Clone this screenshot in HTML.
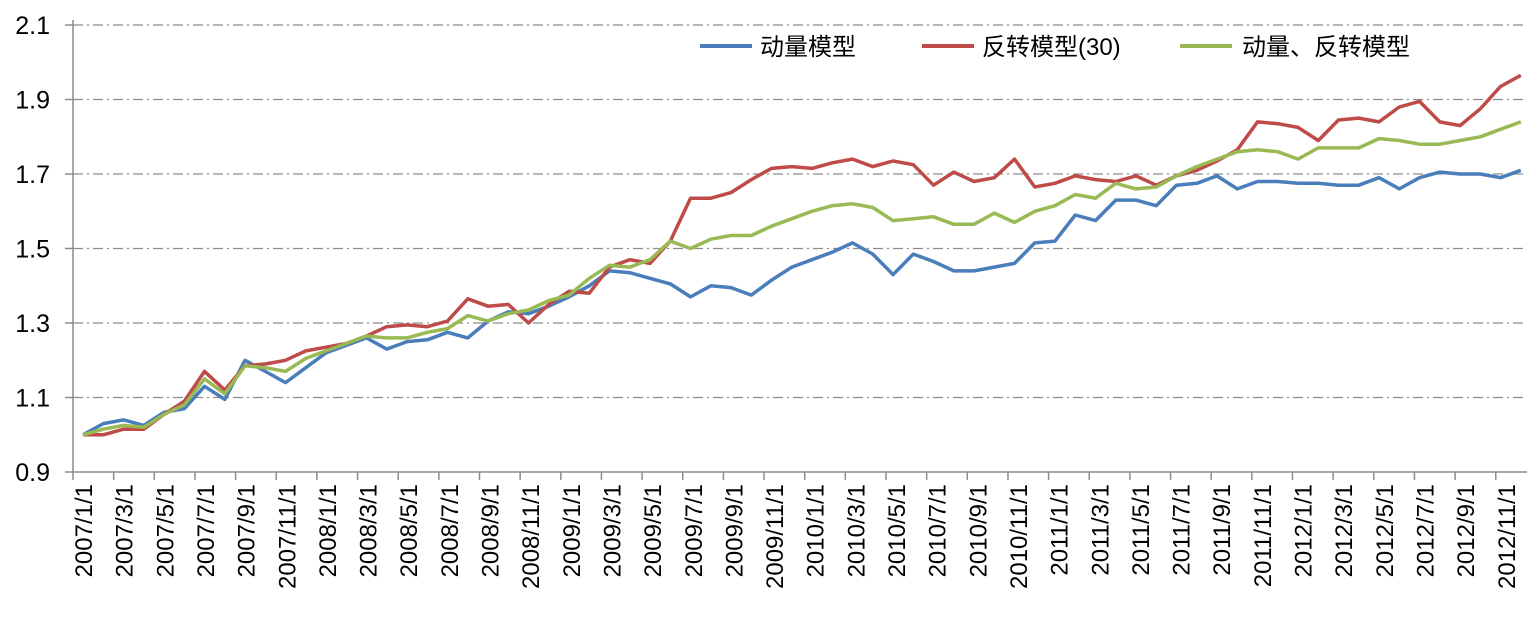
<!DOCTYPE html>
<html><head><meta charset="utf-8"><style>
body{margin:0;background:#fff}
svg text{font-family:"Liberation Sans","Noto Sans CJK SC",sans-serif}
</style></head><body>
<svg width="1539" height="624" viewBox="0 0 1539 624" xmlns="http://www.w3.org/2000/svg">
<g id="grid"></g><g id="axes"></g><g id="series"></g>
<g>
<line x1="700" y1="46" x2="752" y2="46" stroke="#4a7ebb" stroke-width="4"/>
<text x="760" y="55" font-size="24" fill="#000">动量模型</text>
<line x1="922" y1="46" x2="974" y2="46" stroke="#be4b48" stroke-width="4"/>
<text x="982" y="55" font-size="24" fill="#000">反转模型(30)</text>
<line x1="1180" y1="46" x2="1232" y2="46" stroke="#98b954" stroke-width="4"/>
<text x="1242" y="55" font-size="24" fill="#000">动量、反转模型</text>
</g>
</svg>
<script>
const yTicks=[0.9,1.1,1.3,1.5,1.7,1.9,2.1];
const momentum=[1.0,1.03,1.04,1.025,1.06,1.07,1.13,1.095,1.2,1.17,1.14,1.18,1.22,1.24,1.26,1.23,1.25,1.255,1.275,1.26,1.305,1.33,1.325,1.345,1.37,1.4,1.44,1.435,1.42,1.405,1.37,1.4,1.395,1.375,1.415,1.45,1.47,1.49,1.515,1.485,1.43,1.485,1.465,1.44,1.44,1.45,1.46,1.515,1.52,1.59,1.575,1.63,1.63,1.615,1.67,1.675,1.695,1.66,1.68,1.68,1.675,1.675,1.67,1.67,1.69,1.66,1.69,1.705,1.7,1.7,1.69,1.71];
const reversal=[1.0,1.0,1.015,1.015,1.055,1.09,1.17,1.12,1.185,1.19,1.2,1.225,1.235,1.245,1.265,1.29,1.295,1.29,1.305,1.365,1.345,1.35,1.3,1.35,1.385,1.38,1.45,1.47,1.46,1.52,1.635,1.635,1.65,1.685,1.715,1.72,1.715,1.73,1.74,1.72,1.735,1.725,1.67,1.705,1.68,1.69,1.74,1.665,1.675,1.695,1.685,1.68,1.695,1.67,1.695,1.71,1.735,1.765,1.84,1.835,1.825,1.79,1.845,1.85,1.84,1.88,1.895,1.84,1.83,1.875,1.935,1.965];
const combined=[1.0,1.015,1.025,1.02,1.055,1.08,1.15,1.11,1.185,1.18,1.17,1.205,1.225,1.245,1.265,1.26,1.26,1.275,1.285,1.32,1.305,1.325,1.335,1.36,1.375,1.42,1.455,1.45,1.47,1.52,1.5,1.525,1.535,1.535,1.56,1.58,1.6,1.615,1.62,1.61,1.575,1.58,1.585,1.565,1.565,1.595,1.57,1.6,1.615,1.645,1.635,1.675,1.66,1.665,1.695,1.72,1.74,1.76,1.765,1.76,1.74,1.77,1.77,1.77,1.795,1.79,1.78,1.78,1.79,1.8,1.82,1.84];
const xLabels=[];for(let y=2007;y<=2012;y++)for(let m=1;m<=11;m+=2)xLabels.push(y+"/"+m+"/1");
const NS="http://www.w3.org/2000/svg";
const L=73,R=1527,T=25,B=472;
const yS=v=>B-(v-0.9)/(2.1-0.9)*(B-T);
const step=20.25;
const xS=i=>83+i*step;
function mk(t,a,p){const e=document.createElementNS(NS,t);for(const k in a)e.setAttribute(k,a[k]);p.appendChild(e);return e;}
const grid=document.getElementById('grid'),axes=document.getElementById('axes'),ser=document.getElementById('series');
yTicks.forEach(v=>{
 if(v>0.9){const g=mk('line',{x1:L,x2:R,y1:yS(v),y2:yS(v),stroke:'#8c8c8c','stroke-width':1.3,'stroke-dasharray':'10,4,2,4'},grid);
 
 }
 const t=mk('text',{x:50,y:yS(v)+9,'font-size':25,'text-anchor':'end',fill:'#000'},axes);t.textContent=v.toFixed(1);
 
 
 mk('line',{x1:L-8,x2:L,y1:yS(v),y2:yS(v),stroke:'#8c8c8c','stroke-width':1.5},axes);
});
const ya=mk('line',{x1:L,x2:L,y1:T-5,y2:B,stroke:'#8c8c8c','stroke-width':1.5},axes);


const xa=mk('line',{x1:L,x2:R,y1:B,y2:B,stroke:'#8c8c8c','stroke-width':1.5},axes);


xLabels.forEach((s,k)=>{
 const cx=83+k*40.65;
 mk('line',{x1:cx-10,x2:cx-10,y1:B,y2:B+8,stroke:'#8c8c8c','stroke-width':1.5},axes);
 const t=mk('text',{x:0,y:0,'font-size':24,'text-anchor':'end',fill:'#000',transform:`translate(${cx+9},484) rotate(-90)`},axes);
 t.textContent=s;
 
 
});
[[momentum,'#4a7ebb','momentum-line'],[reversal,'#be4b48','reversal-line'],[combined,'#98b954','combined-line']].forEach(([d,c,n])=>{
 const p=mk('polyline',{points:d.map((v,i)=>xS(i).toFixed(1)+','+yS(v).toFixed(1)).join(' '),fill:'none',stroke:c,'stroke-width':3.5,'stroke-linejoin':'round'},ser);
 
 
});
</script>
</body></html>
